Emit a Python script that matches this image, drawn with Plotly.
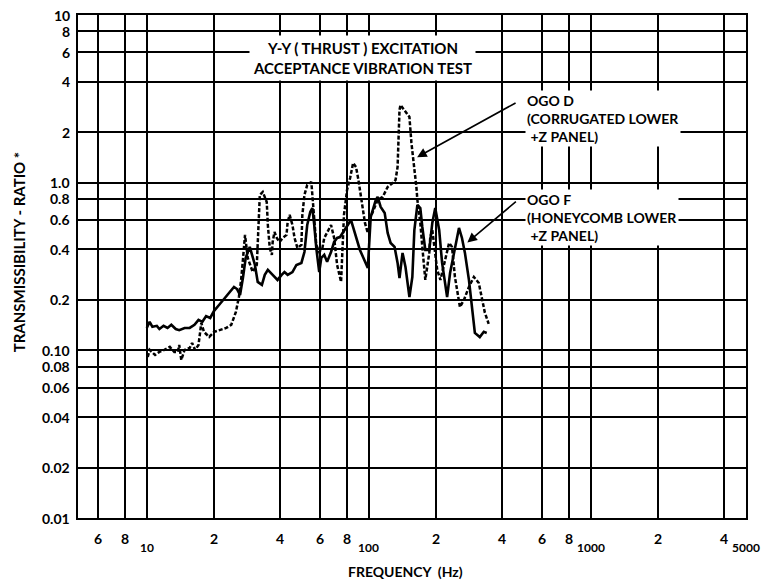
import math
import plotly.graph_objects as go

# ---- data ----
ogo_f_freq = [10.0, 10.3, 10.6, 11.1, 11.4, 11.9, 12.4, 12.9, 13.5, 14.0, 14.8, 15.6, 16.4, 17.1, 17.8,
              18.5, 19.3, 20.1, 21.2, 22.3, 23.5, 24.7, 25.5, 26.3, 27.1, 27.9, 29.1, 30.7, 31.6, 33.0,
              34.0, 35.1, 36.9, 38.8, 40.5, 41.7, 43.1, 45.3, 47.2, 49.7, 51.3, 52.8, 54.5, 55.7, 56.8,
              58.0, 59.8, 61.1, 63.0, 64.9, 67.6, 69.8, 72.0, 74.2, 83.1, 91.2, 99.0, 102, 107.5, 109.6,
              113.1, 117.9, 121.6, 125.4, 130.6, 134.8, 137.5, 141.9, 146.3, 152.4, 157.1, 160.4, 165.5,
              170.6, 174.2, 179.7, 187.2, 193.2, 199.2, 207.5, 213.9, 225.3, 232.3, 242.1, 254.8, 262.8,
              271.0, 282.5, 291.3, 300.4, 316.2, 329.6, 339.8]
ogo_f_ratio = [0.136, 0.148, 0.138, 0.140, 0.134, 0.140, 0.136, 0.142, 0.134, 0.132, 0.136, 0.136, 0.142,
               0.152, 0.148, 0.160, 0.156, 0.172, 0.187, 0.203, 0.220, 0.239, 0.232, 0.214, 0.270, 0.356,
               0.414, 0.323, 0.256, 0.246, 0.282, 0.302, 0.282, 0.263, 0.282, 0.293, 0.282, 0.293, 0.323,
               0.332, 0.386, 0.559, 0.669, 0.706, 0.559, 0.408, 0.293, 0.356, 0.371, 0.337, 0.386, 0.443,
               0.468, 0.474, 0.599, 0.397, 0.310, 0.624, 0.789, 0.822, 0.716, 0.660, 0.501, 0.437, 0.414,
               0.332, 0.270, 0.381, 0.314, 0.208, 0.274, 0.522, 0.736, 0.706, 0.544, 0.397, 0.397, 0.575,
               0.706, 0.522, 0.332, 0.208, 0.289, 0.381, 0.537, 0.468, 0.381, 0.263, 0.181, 0.127, 0.120,
               0.129, 0.127]

ogo_d_freq = [10.1, 10.3, 10.9, 11.4, 12.0, 12.7, 13.3, 13.8, 14.0, 14.3, 14.8, 15.6, 16.0, 16.5, 17.1,
              17.6, 18.1, 19.1, 20.1, 21.2, 22.8, 24.0, 25.2, 26.0, 26.6, 27.1, 27.7, 28.5, 30.0, 31.3,
              31.6, 32.3, 33.3, 34.7, 35.1, 35.8, 36.6, 36.9, 37.6, 38.5, 39.7, 40.9, 42.6, 43.1, 44.0,
              45.3, 46.3, 47.7, 49.7, 50.2, 51.3, 52.8, 55.1, 55.7, 56.8, 58.0, 59.8, 61.8, 63.0, 64.9,
              67.6, 69.8, 72.0, 75.0, 77.3, 79.8, 82.4, 85.0, 87.6, 89.8, 92.5, 96.1, 99.0, 102, 106.4,
              109.6, 115.5, 121.6, 128.0, 132.0, 134.8, 136.2, 137.5, 138.9, 146.3, 152.4, 155.6, 160.4,
              163.8, 165.5, 170.6, 174.2, 177.9, 179.7, 187.2, 189.2, 193.2, 197.2, 203.3, 210.2, 220.8,
              230.0, 237.0, 244.3, 257.4, 268.3, 282.5, 297.4, 312.9, 322.7, 333.2, 346.7]
ogo_d_ratio = [0.0913, 0.1006, 0.0939, 0.0978, 0.1006, 0.1048, 0.0978, 0.0978, 0.1077, 0.0877, 0.1006,
               0.1033, 0.1107, 0.1006, 0.1077, 0.1457, 0.1288, 0.1202, 0.1288, 0.1324, 0.136, 0.1418,
               0.1695, 0.2082, 0.2629, 0.3459, 0.4876, 0.3556, 0.2934, 0.323, 0.4429, 0.845, 0.880, 0.767,
               0.559, 0.408, 0.371, 0.443, 0.508, 0.468, 0.443, 0.468, 0.488, 0.583, 0.642, 0.559, 0.468,
               0.408, 0.425, 0.642, 0.845, 0.969, 1.010, 0.845, 0.583, 0.425, 0.386, 0.408, 0.468, 0.508,
               0.559, 0.468, 0.323, 0.256, 0.642, 0.905, 1.067, 1.311, 1.241, 1.038, 0.789, 0.575, 0.501,
               0.624, 0.716, 0.789, 0.822, 0.943, 0.996, 1.038, 1.241, 1.797, 2.714, 2.906, 2.64, 2.465,
               1.725, 1.241, 0.943, 0.789, 0.575, 0.414, 0.289, 0.263, 0.381, 0.474, 0.522, 0.414, 0.302,
               0.263, 0.346, 0.437, 0.414, 0.274, 0.181, 0.2, 0.239, 0.274, 0.252, 0.208, 0.168, 0.144]

x_grid = [6, 8, 10, 20, 40, 60, 80, 100, 200, 400, 600, 800, 1000, 2000, 4000]
x_digit_vals = [6, 8, 20, 40, 60, 80, 200, 400, 600, 800, 2000, 4000]
x_digit_text = ["6", "8", "2", "4", "6", "8", "2", "4", "6", "8", "2", "4"]
x_decade_vals = [10, 100, 1000, 5000]
x_decade_text = ["10", "100", "1000", "5000"]

y_grid = [0.01, 0.02, 0.04, 0.06, 0.08, 0.1, 0.2, 0.4, 0.6, 0.8, 1, 2, 4, 6, 8, 10]
y_text = ["0.01", "0.02", "0.04", "0.06", "0.08", "0.10", "0.2", "0.4", "0.6", "0.8",
          "1.0", "2", "4", "6", "8", "10"]

FONT = "Lato"

fig = go.Figure()
fig.add_trace(go.Scatter(x=ogo_f_freq, y=ogo_f_ratio, mode="lines",
                         line=dict(color="black", width=2.6), showlegend=False))
fig.add_trace(go.Scatter(x=ogo_d_freq, y=ogo_d_ratio, mode="lines",
                         line=dict(color="black", width=2.5, dash="4px,2px"), showlegend=False))

ann = []
for v, t in zip(x_digit_vals, x_digit_text):
    ann.append(dict(x=math.log10(v), y=-0.040, xref="x", yref="paper", text=t, showarrow=False,
                    xanchor="center", yanchor="middle", font=dict(size=14, family=FONT, color="black", weight="bold")))
for v, t in zip(x_decade_vals, x_decade_text):
    ann.append(dict(x=math.log10(v), y=-0.058, xref="x", yref="paper", text=t, showarrow=False,
                    xanchor="center", yanchor="middle", font=dict(size=12, family=FONT, color="black", weight="bold")))
for v, t in zip(y_grid, y_text):
    ann.append(dict(x=-0.009, y=math.log10(v), xref="paper", yref="y", text=t, showarrow=False,
                    xanchor="right", yanchor="middle", font=dict(size=14, family=FONT, color="black", weight="bold")))

# axis titles
ann.append(dict(x=0.49, y=-0.107, xref="paper", yref="paper", text="FREQUENCY&nbsp;&nbsp;(Hz)",
                showarrow=False, xanchor="center", yanchor="middle",
                font=dict(size=14, family=FONT, color="black", weight="bold")))
ann.append(dict(x=-0.087, y=0.53, xref="paper", yref="paper", text="TRANSMISSIBILITY - RATIO *",
                showarrow=False, xanchor="center", yanchor="middle", textangle=-90,
                font=dict(size=15, family=FONT, color="black", weight="bold")))

# title box
ann.append(dict(x=0.4266, y=0.9145, xref="paper", yref="paper",
                text="Y-Y ( THRUST ) EXCITATION<br>ACCEPTANCE VIBRATION TEST",
                showarrow=False, xanchor="center", yanchor="middle", align="center",
                bgcolor="white", borderpad=3,
                font=dict(size=15, family=FONT, color="black", weight="bold")))

# curve labels
ann.append(dict(x=0.669, y=0.794, xref="paper", yref="paper",
                text="OGO D<br>(CORRUGATED LOWER<br>\u00a0+Z PANEL)",
                showarrow=False, xanchor="left", yanchor="middle", align="left",
                bgcolor="white", borderpad=1,
                font=dict(size=14, family=FONT, color="black", weight="bold")))
ann.append(dict(x=0.669, y=0.597, xref="paper", yref="paper",
                text="OGO F<br>(HONEYCOMB LOWER<br>\u00a0+Z PANEL)",
                showarrow=False, xanchor="left", yanchor="middle", align="left",
                bgcolor="white", borderpad=1,
                font=dict(size=14, family=FONT, color="black", weight="bold")))

# arrows
ann.append(dict(x=math.log10(165), y=math.log10(1.42), xref="x", yref="y", text="",
                showarrow=True, ax=100, ay=-55, arrowhead=2, arrowsize=1.2, arrowwidth=1.6,
                arrowcolor="black"))
ann.append(dict(x=math.log10(278), y=math.log10(0.44), xref="x", yref="y", text="",
                showarrow=True, ax=50, ay=-42, arrowhead=2, arrowsize=1.2, arrowwidth=1.6,
                arrowcolor="black"))

axis_common = dict(type="log", showgrid=True, gridcolor="black", gridwidth=2,
                   showline=True, linecolor="black", linewidth=2, mirror=True,
                   zeroline=False, ticks="", showticklabels=False, tickmode="array")

fig.update_layout(
    width=768, height=583,
    margin=dict(l=78, r=22, t=15, b=65),
    paper_bgcolor="white", plot_bgcolor="white",
    xaxis=dict(range=[math.log10(4.9), math.log10(5000)], tickvals=x_grid, **axis_common),
    yaxis=dict(range=[-2, 1], tickvals=y_grid, **axis_common),
    annotations=ann,
    font=dict(family=FONT, color="black"),
)

fig.write_html("out.html")
